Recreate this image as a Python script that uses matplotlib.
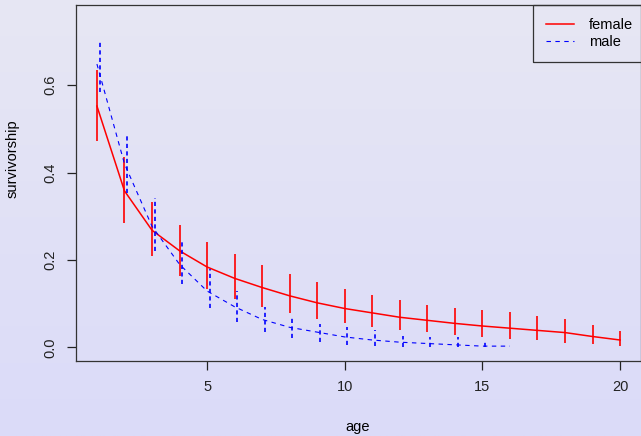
import numpy as np
import matplotlib
matplotlib.use("Agg")
import matplotlib.pyplot as plt

plt.rcParams['font.family'] = ['Liberation Sans', 'DejaVu Sans']

# survivorship by age, with interval ends
age_f = np.arange(1, 21)
female = [0.552, 0.358, 0.268, 0.221, 0.184, 0.158, 0.137, 0.118, 0.102, 0.089,
          0.079, 0.069, 0.062, 0.055, 0.049, 0.044, 0.039, 0.034, 0.025, 0.017]
female_hi = [0.634, 0.436, 0.333, 0.280, 0.242, 0.213, 0.188, 0.168, 0.150, 0.134,
             0.121, 0.108, 0.098, 0.091, 0.085, 0.081, 0.073, 0.064, 0.051, 0.037]
female_lo = [0.471, 0.285, 0.209, 0.163, 0.134, 0.111, 0.093, 0.078, 0.064, 0.055,
             0.047, 0.040, 0.035, 0.028, 0.024, 0.020, 0.016, 0.011, 0.008, 0.003]

age_m = np.arange(1, 17)
male = [0.648, 0.420, 0.277, 0.190, 0.129, 0.093, 0.064, 0.046, 0.035, 0.024,
        0.017, 0.012, 0.009, 0.006, 0.003, 0.003]
male_hi = [0.701, 0.488, 0.341, 0.247, 0.179, 0.129, 0.093, 0.073, 0.053, 0.047,
           0.040, 0.026, 0.024, 0.023, 0.018, 0.003]
male_lo = [0.583, 0.354, 0.221, 0.144, 0.091, 0.058, 0.035, 0.022, 0.012, 0.005,
           0.003, 0.002, 0.001, 0.001, 0.000, 0.003]

fig = plt.figure(figsize=(6.41, 4.36), dpi=100)

# background gradient
bg = fig.add_axes([0, 0, 1, 1], zorder=-1)
top = np.array([231, 231, 243]) / 255
bot = np.array([219, 219, 249]) / 255
t = np.linspace(0, 1, 256)[:, None]
grad = top[None, None, :] * (1 - t[..., None]) + bot[None, None, :] * t[..., None]
bg.imshow(np.repeat(grad, 2, axis=1), aspect='auto', extent=[0, 1, 0, 1])
bg.axis('off')

ax = fig.add_axes([76/641, 75/436, 1 - 76/641, 356/436])
ax.set_facecolor('none')

ax.plot(age_f, female, color='red', lw=1.1, label='female')
ax.vlines(age_f, female_lo, female_hi, colors='red', lw=1.2)
ax.plot(age_m, male, color='blue', lw=0.8, dashes=(4, 4), label='male')
ax.vlines(age_m + 0.1, male_lo, male_hi, colors='blue', lw=1.2,
          linestyles=(0, (2.5, 2)))

ax.set_xlim(0.24, 20.76)
ax.set_ylim(-0.031, 0.783)
ax.set_xticks([5, 10, 15, 20])
ax.set_yticks([0.0, 0.2, 0.4, 0.6])
ax.set_yticklabels(['0.0', '0.2', '0.4', '0.6'], rotation=90, va='center')
ax.tick_params(length=6.5, width=0.9, labelsize=10.5, pad=7, colors='#222222')
for s in ax.spines.values():
    s.set_linewidth(0.9)
    s.set_color('#333333')

fig.text(358/641, 1 - 427/436, 'age', ha='center', va='center', fontsize=10.5)
fig.text(13/641, 1 - 159/436, 'survivorship', ha='center', va='center',
         rotation=90, fontsize=10.5)

# legend box runs past the right edge, as in the original
leg = ax.legend(loc='upper right', bbox_to_anchor=(1 + 5/565, 1), borderaxespad=0,
                fontsize=10.5, fancybox=False, edgecolor='#333333',
                facecolor='none', framealpha=1, handlelength=1.9,
                handletextpad=1.0, borderpad=0.9, labelspacing=0.2)
leg.get_frame().set_linewidth(0.9)
leg.set_clip_on(False)

fig.savefig('out.png', dpi=100)
